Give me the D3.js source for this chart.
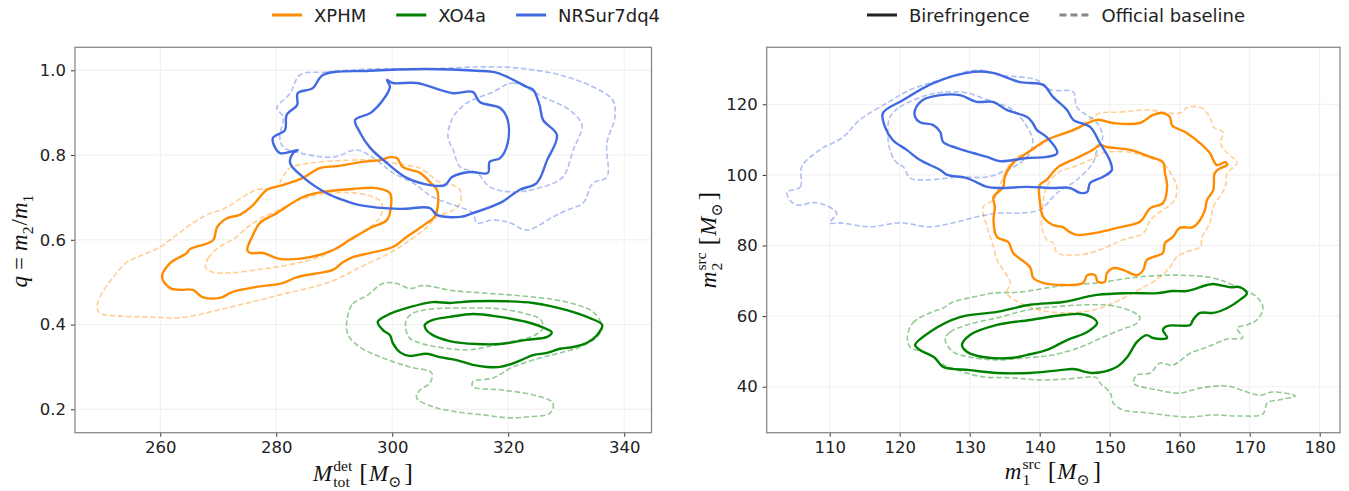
<!DOCTYPE html>
<html>
<head>
<meta charset="utf-8">
<script src="https://cdn.jsdelivr.net/npm/d3@7"></script>
<style>
  body { margin: 0; background: #fff; }
</style>
</head>
<body>
<div id="chart"></div>
<script>
// ---- legend / tick labels ----
const models = ["XPHM", "XO4a", "NRSur7dq4"];
const modelColors = ["darkorange", "green", "royalblue"];
const styleNames = ["Birefringence", "Official baseline"];
const leftXTicks = [260, 280, 300, 320, 340];
const leftYTicks = [0.2, 0.4, 0.6, 0.8, 1.0];
const rightXTicks = [110, 120, 130, 140, 150, 160, 170, 180];
const rightYTicks = [40, 60, 80, 100, 120];

// ---- left panel contours: [M_tot_det, q] ----
const qXphmSolidOuter = [[260.3,0.512],[261.7,0.545],[264.6,0.569],[265.1,0.578],[269.1,0.599],[269.8,0.630],[271.5,0.651],[273.7,0.659],[276.0,0.682],[278.4,0.718],[281.1,0.729],[284.6,0.746],[287.5,0.769],[290.5,0.774],[294.9,0.784],[297.9,0.788],[299.6,0.795],[300.8,0.793],[301.8,0.772],[304.8,0.758],[306.5,0.736],[307.7,0.718],[307.9,0.687],[307.3,0.654],[306.0,0.640],[302.5,0.607],[300.1,0.583],[296.2,0.569],[293.2,0.559],[291.5,0.547],[289.8,0.529],[287.5,0.522],[283.6,0.512],[281.1,0.498],[276.7,0.489],[272.5,0.477],[270.3,0.463],[267.3,0.465],[265.6,0.482],[263.4,0.482],[261.7,0.486]];
const qXphmSolidInner = [[275.0,0.576],[275.8,0.606],[277.2,0.640],[280.1,0.663],[284.6,0.701],[288.0,0.713],[293.2,0.720],[297.3,0.722],[299.6,0.710],[299.8,0.682],[299.1,0.647],[296.2,0.628],[292.7,0.600],[289.8,0.576],[285.8,0.559],[280.6,0.555],[277.7,0.569],[275.5,0.569]];
const qXphmDashOuter = [[249.1,0.441],[249.6,0.465],[251.9,0.512],[254.3,0.548],[256.0,0.559],[260.0,0.583],[261.7,0.600],[267.3,0.654],[271.5,0.677],[274.2,0.701],[276.6,0.718],[280.1,0.725],[281.1,0.748],[282.3,0.769],[285.8,0.781],[292.7,0.788],[297.3,0.788],[301.8,0.777],[304.8,0.769],[308.2,0.736],[310.5,0.729],[311.7,0.718],[311.7,0.687],[310.5,0.670],[307.7,0.654],[306.0,0.630],[303.1,0.600],[299.6,0.569],[295.3,0.541],[289.3,0.501],[280.6,0.470],[272.0,0.441],[263.4,0.416],[258.3,0.418],[253.1,0.420],[249.6,0.427]];
const qXphmDashInner = [[267.8,0.536],[268.3,0.557],[270.0,0.581],[272.9,0.604],[274.7,0.626],[277.4,0.651],[281.1,0.675],[283.5,0.692],[288.0,0.708],[293.9,0.710],[297.9,0.692],[298.3,0.668],[297.4,0.645],[294.4,0.614],[291.5,0.590],[288.0,0.562],[284.6,0.548],[280.1,0.536],[276.6,0.529],[272.0,0.522],[268.9,0.524]];
const qXo4aSolidOuter = [[297.5,0.406],[299.1,0.422],[303.0,0.441],[307.0,0.453],[309.9,0.451],[313.9,0.455],[319.8,0.455],[324.3,0.451],[330.1,0.434],[334.1,0.415],[336.2,0.399],[335.3,0.375],[333.6,0.357],[331.2,0.347],[328.9,0.343],[326.7,0.333],[324.3,0.328],[321.5,0.312],[318.6,0.300],[316.3,0.300],[313.9,0.305],[311.1,0.316],[308.2,0.323],[305.9,0.331],[303.0,0.326],[301.3,0.335],[300.1,0.356],[299.6,0.375],[298.4,0.387]];
const qXo4aSolidInner = [[305.6,0.399],[307.0,0.411],[309.9,0.418],[313.9,0.425],[318.6,0.418],[323.2,0.406],[326.7,0.389],[327.5,0.382],[326.7,0.371],[323.2,0.364],[318.6,0.354],[314.6,0.354],[309.9,0.361],[307.0,0.375],[305.9,0.387]];
const qXo4aDashOuter = [[292.2,0.413],[293.2,0.449],[295.6,0.468],[298.4,0.497],[300.8,0.497],[303.0,0.485],[305.3,0.492],[310.5,0.480],[316.3,0.474],[324.3,0.465],[330.1,0.453],[334.6,0.430],[336.2,0.394],[335.3,0.371],[332.4,0.347],[328.9,0.333],[325.5,0.321],[320.8,0.300],[317.4,0.274],[313.9,0.265],[313.9,0.253],[318.6,0.246],[324.3,0.234],[327.7,0.215],[327.2,0.191],[323.2,0.182],[319.8,0.180],[315.6,0.187],[311.1,0.194],[307.0,0.206],[304.2,0.227],[304.8,0.246],[306.5,0.262],[306.8,0.286],[303.0,0.300],[298.4,0.321],[294.4,0.347],[292.4,0.375]];
const qXo4aDashInner = [[302.5,0.413],[303.6,0.427],[307.0,0.437],[312.9,0.439],[318.6,0.437],[323.2,0.425],[325.5,0.413],[326.0,0.392],[324.3,0.373],[320.8,0.361],[316.3,0.347],[312.9,0.340],[308.8,0.345],[305.3,0.354],[303.0,0.368],[302.3,0.392]];
const qNrsurSolidOuter = [[288.05,0.989],[296.1,0.999],[306.0,1.003],[314.6,0.999],[318.1,0.994],[323.2,0.961],[324.3,0.954],[325.4,0.918],[326.0,0.883],[328.4,0.847],[326.7,0.788],[324.9,0.734],[322.0,0.718],[318.6,0.687],[313.9,0.663],[311.7,0.654],[307.7,0.659],[306.5,0.675],[301.3,0.673],[294.4,0.682],[291.5,0.694],[288.7,0.710],[284.6,0.748],[282.4,0.781],[282.9,0.805],[283.7,0.812],[280.6,0.805],[279.4,0.840],[281.5,0.859],[281.8,0.895],[283.6,0.918],[283.7,0.946],[286.3,0.958]];
const qNrsurSolidInner = [[299.1,0.977],[300.1,0.970],[304.2,0.970],[310.5,0.946],[313.9,0.949],[315.1,0.925],[318.6,0.911],[319.9,0.883],[319.9,0.828],[318.6,0.793],[316.8,0.784],[316.5,0.758],[313.4,0.760],[310.3,0.748],[309.1,0.729],[306.5,0.729],[302.5,0.746],[299.1,0.781],[296.2,0.817],[294.4,0.854],[293.6,0.883],[296.2,0.899],[298.4,0.930],[299.6,0.961]];
const qNrsurDashOuter = [[284.1,0.989],[288.7,0.996],[296.2,1.003],[306.0,1.003],[315.1,1.008],[322.0,1.005],[328.9,0.989],[334.6,0.961],[338.0,0.930],[338.4,0.890],[337.0,0.828],[337.0,0.748],[334.6,0.734],[332.9,0.687],[330.1,0.670],[327.7,0.654],[323.2,0.623],[320.3,0.640],[317.4,0.647],[314.6,0.640],[313.9,0.663],[311.7,0.677],[307.0,0.701],[303.6,0.734],[300.1,0.758],[297.3,0.788],[293.9,0.812],[289.8,0.795],[284.1,0.805],[281.2,0.819],[280.6,0.843],[281.2,0.890],[280.1,0.911],[282.4,0.946]];
const qNrsurDashInner = [[317.4,0.949],[320.8,0.970],[326.0,0.937],[330.6,0.906],[332.7,0.871],[331.2,0.812],[329.4,0.748],[326.0,0.725],[320.8,0.713],[316.8,0.725],[314.6,0.758],[311.7,0.772],[310.5,0.812],[309.6,0.843],[310.5,0.890],[312.9,0.923]];

// ---- right panel contours: [m1_src, m2_src] ----
const mXphmSolidOuter = [[133.4,93.7],[134.8,96.6],[135.0,99.4],[136.2,103.4],[138.2,106.2],[141.0,109.9],[144.8,112.7],[148.2,115.6],[150.5,114.7],[154.3,114.7],[156.2,117.0],[157.6,117.5],[158.6,116.4],[158.9,114.1],[161.0,111.9],[162.9,109.0],[164.3,106.2],[165.3,102.8],[166.5,103.6],[166.8,102.8],[165.8,101.9],[165.0,100.5],[164.8,95.7],[163.9,92.9],[163.6,90.0],[162.9,87.2],[161.9,85.2],[160.0,85.0],[159.0,82.4],[157.9,80.7],[157.6,77.9],[155.3,75.9],[154.8,73.1],[153.9,71.6],[151.9,73.1],[150.5,73.6],[149.6,72.2],[149.3,69.7],[148.3,69.7],[147.9,71.6],[146.8,71.6],[146.2,69.4],[143.3,68.8],[140.5,69.4],[139.1,70.8],[138.6,73.9],[136.2,77.9],[135.5,81.0],[133.9,82.4],[133.4,87.2],[133.6,90.9]];
const mXphmSolidInner = [[140.0,97.1],[141.0,98.6],[142.5,102.0],[145.3,104.8],[147.6,107.1],[148.6,108.5],[149.6,107.9],[152.9,107.1],[155.8,105.1],[157.6,103.6],[157.9,100.5],[158.2,96.6],[157.6,92.0],[155.8,90.6],[154.3,86.7],[151.5,85.2],[148.6,83.8],[145.3,83.0],[144.3,83.8],[143.3,85.2],[141.9,85.8],[140.5,88.1],[140.0,92.9]];
const mXphmDashOuter = [[148.6,117.5],[151.5,117.8],[155.3,118.4],[160.0,117.5],[161.0,119.0],[162.9,119.2],[164.3,116.4],[164.8,113.6],[166.2,112.1],[165.8,109.0],[166.8,106.2],[168.2,103.4],[166.8,100.5],[166.5,96.6],[164.8,90.9],[164.3,86.4],[163.2,82.4],[162.9,79.6],[161.0,78.2],[159.6,76.8],[158.6,73.9],[157.2,71.1],[153.4,66.6],[150.5,63.7],[147.6,61.7],[143.9,60.9],[140.0,61.7],[137.2,63.7],[135.3,66.6],[135.8,69.4],[134.8,73.1],[133.9,75.9],[133.4,79.6],[132.5,85.2],[131.9,90.9],[133.4,92.9],[134.3,97.1],[136.2,104.2],[139.1,107.1],[141.9,110.7],[144.8,112.7],[147.6,116.4]];
const mXphmDashInner = [[141.0,96.6],[142.5,100.5],[144.8,102.3],[147.2,104.2],[149.0,106.2],[152.5,106.5],[155.3,105.1],[157.6,103.4],[159.0,99.4],[159.6,96.6],[159.3,92.9],[158.2,90.9],[155.8,87.2],[154.8,83.5],[151.9,81.6],[149.6,79.6],[147.2,77.9],[144.8,77.3],[142.5,77.9],[141.9,80.7],[141.0,81.6],[140.3,85.2],[140.4,90.9]];
const mXo4aSolidOuter = [[122.2,51.8],[124.3,55.5],[128.6,59.7],[133.9,61.2],[138.6,63.2],[143.3,64.0],[148.2,66.0],[152.9,66.5],[156.8,66.5],[159.0,67.1],[161.0,67.1],[163.9,68.8],[164.8,69.1],[167.2,68.2],[168.6,68.2],[169.6,66.5],[168.6,64.6],[166.8,62.3],[164.8,60.9],[162.9,60.9],[161.9,58.9],[161.5,57.5],[158.2,57.2],[157.6,56.1],[158.2,53.8],[156.2,53.8],[155.3,54.6],[153.9,52.7],[152.5,48.4],[151.0,45.6],[147.6,43.9],[144.8,45.0],[142.9,44.7],[138.6,43.9],[133.9,43.9],[130.0,44.7],[126.2,45.6],[125.0,48.2],[122.9,50.4]];
const mXo4aSolidInner = [[128.9,51.8],[130.0,54.6],[133.9,57.5],[138.6,58.9],[143.3,60.3],[145.8,60.6],[147.6,59.5],[148.2,58.0],[146.8,55.5],[143.9,53.2],[141.0,50.4],[138.2,49.0],[136.2,48.2],[131.9,48.4],[129.6,49.9]];
const mXo4aDashOuter = [[121.1,54.1],[121.9,58.1],[124.3,60.9],[126.2,62.3],[127.6,64.0],[130.5,65.4],[133.3,66.5],[137.2,66.8],[141.0,68.0],[143.9,68.8],[148.2,69.4],[152.9,70.8],[156.2,71.4],[160.0,71.6],[164.8,70.8],[167.6,68.8],[171.0,65.4],[171.9,62.3],[171.0,58.9],[169.6,57.5],[168.2,56.6],[169.0,53.8],[166.8,53.5],[163.9,51.2],[161.5,49.5],[159.0,46.1],[157.2,46.7],[155.8,43.9],[153.9,43.3],[153.4,41.0],[156.8,39.1],[160.0,38.2],[162.9,39.6],[166.8,40.2],[169.6,38.5],[171.5,37.6],[173.3,38.5],[176.5,37.4],[174.3,36.3],[172.5,35.4],[171.9,32.3],[168.6,31.7],[164.8,32.0],[161.1,31.4],[155.3,32.6],[151.9,33.4],[150.5,35.4],[150.1,38.2],[148.6,41.1],[148.2,42.5],[143.9,42.2],[140.0,41.9],[136.2,42.5],[131.9,42.8],[128.2,44.7],[125.8,46.7],[123.9,49.5],[121.5,51.2]];
const mXo4aDashInner = [[126.5,53.3],[127.2,55.5],[129.6,57.5],[133.9,59.5],[138.2,61.7],[141.9,62.6],[146.8,63.2],[150.5,62.9],[153.3,61.2],[154.3,59.7],[153.9,58.0],[151.5,56.1],[148.2,53.3],[145.8,51.2],[141.9,49.0],[138.2,48.2],[133.9,47.6],[130.0,48.4],[127.6,49.9]];
const mNrsurSolidOuter = [[117.6,117.5],[120.5,121.2],[124.8,126.0],[130.5,129.2],[133.3,128.9],[137.2,126.3],[140.5,125.5],[141.9,122.1],[143.9,118.4],[144.8,115.6],[147.2,113.6],[148.6,109.0],[150.0,104.2],[150.3,101.4],[149.0,99.4],[147.2,97.7],[146.8,95.2],[145.8,94.9],[144.3,96.3],[141.9,96.3],[138.2,96.6],[134.3,96.3],[132.5,96.6],[129.6,99.1],[126.8,100.0],[125.8,101.4],[122.9,104.2],[121.0,107.1],[119.0,109.9],[117.9,113.6]];
const mNrsurSolidInner = [[122.2,118.4],[123.3,121.2],[125.8,122.6],[128.6,122.6],[131.0,120.7],[133.3,120.7],[135.3,118.4],[138.2,116.4],[139.0,114.7],[139.6,112.7],[141.0,110.7],[142.5,106.2],[141.0,105.1],[138.2,104.8],[134.3,103.9],[132.5,105.1],[130.5,106.2],[128.2,107.6],[126.2,109.3],[125.8,112.1],[124.8,114.1],[122.9,114.9],[122.2,116.4]];
const mNrsurDashOuter = [[103.9,95.1],[105.8,96.6],[106.0,102.3],[108.6,107.1],[111.9,110.7],[114.3,115.6],[118.2,120.4],[121.5,124.1],[125.8,126.9],[131.0,129.7],[134.3,128.3],[139.6,126.9],[141.5,124.1],[144.8,123.5],[145.3,119.2],[148.2,114.7],[149.0,110.7],[148.2,107.1],[147.6,103.4],[145.3,98.6],[142.5,94.9],[140.0,90.1],[137.2,89.2],[134.3,89.2],[131.0,88.1],[127.6,86.4],[124.3,85.3],[120.0,86.4],[115.8,85.3],[111.5,86.4],[110.0,86.4],[111.0,89.2],[108.2,92.1],[105.3,91.5],[104.3,92.9]];
const mNrsurDashInner = [[118.6,116.4],[120.0,119.2],[123.9,122.6],[126.7,123.5],[129.6,123.2],[133.3,120.7],[136.2,118.4],[138.2,113.6],[139.0,109.9],[138.6,106.2],[137.2,103.4],[135.3,101.4],[132.5,99.4],[128.6,99.4],[123.9,98.6],[121.5,99.1],[120.5,102.3],[119.6,103.4],[118.6,107.1],[118.3,111.9]];

const width = 1349, height = 491;
const fontSans = "DejaVu Sans, sans-serif";
const fontMath = "Liberation Serif, DejaVu Serif, serif";

const svg = d3.select("#chart").append("svg")
  .attr("width", width)
  .attr("height", height)
  .attr("viewBox", [0, 0, width, height]);

const panels = [
  {
    box: [75, 47.3, 651.5, 432.7],
    xDomain: [245.3, 344.7], yDomain: [0.1448, 1.0543],
    xTicks: leftXTicks, yTicks: leftYTicks, yFormat: d3.format(".1f"),
    contours: [
      [qXphmDashOuter, 0, true], [qXphmDashInner, 0, true],
      [qXo4aDashOuter, 1, true], [qXo4aDashInner, 1, true],
      [qNrsurDashOuter, 2, true], [qNrsurDashInner, 2, true],
      [qXphmSolidOuter, 0, false], [qXphmSolidInner, 0, false],
      [qXo4aSolidOuter, 1, false], [qXo4aSolidInner, 1, false],
      [qNrsurSolidOuter, 2, false], [qNrsurSolidInner, 2, false]
    ]
  },
  {
    box: [766.7, 47.3, 1340, 432.7],
    xDomain: [101.0, 182.9], yDomain: [26.97, 136.15],
    xTicks: rightXTicks, yTicks: rightYTicks, yFormat: d3.format("d"),
    contours: [
      [mXphmDashOuter, 0, true], [mXphmDashInner, 0, true],
      [mXo4aDashOuter, 1, true], [mXo4aDashInner, 1, true],
      [mNrsurDashOuter, 2, true], [mNrsurDashInner, 2, true],
      [mXphmSolidOuter, 0, false], [mXphmSolidInner, 0, false],
      [mXo4aSolidOuter, 1, false], [mXo4aSolidInner, 1, false],
      [mNrsurSolidOuter, 2, false], [mNrsurSolidInner, 2, false]
    ]
  }
];

panels.forEach((p, pi) => {
  const [x0, y0, x1, y1] = p.box;
  const x = d3.scaleLinear(p.xDomain, [x0, x1]);
  const y = d3.scaleLinear(p.yDomain, [y1, y0]);

  // grid
  const grid = svg.append("g").attr("stroke", "#ebebeb").attr("stroke-width", 0.8);
  grid.selectAll(".gx").data(p.xTicks).join("line")
    .attr("x1", d => x(d)).attr("x2", d => x(d)).attr("y1", y0).attr("y2", y1);
  grid.selectAll(".gy").data(p.yTicks).join("line")
    .attr("y1", d => y(d)).attr("y2", d => y(d)).attr("x1", x0).attr("x2", x1);

  // contours
  svg.append("clipPath").attr("id", "clip" + pi)
    .append("rect").attr("x", x0).attr("y", y0).attr("width", x1 - x0).attr("height", y1 - y0);
  const line = d3.line().x(d => x(d[0])).y(d => y(d[1]))
    .curve(d3.curveCatmullRomClosed.alpha(0.5));
  svg.append("g").attr("clip-path", `url(#clip${pi})`).attr("fill", "none")
    .selectAll("path").data(p.contours).join("path")
    .attr("d", d => line(d[0]))
    .attr("stroke", d => modelColors[d[1]])
    .attr("stroke-width", d => d[2] ? 1.6 : 2.4)
    .attr("stroke-opacity", d => d[2] ? 0.42 : 1)
    .attr("stroke-dasharray", d => d[2] ? "5.5,2.6" : null)
    .attr("stroke-linejoin", "round");

  // axes
  const xAxis = svg.append("g").attr("transform", `translate(0,${y1})`)
    .call(d3.axisBottom(x).tickValues(p.xTicks).tickSize(4).tickPadding(5));
  const yAxis = svg.append("g").attr("transform", `translate(${x0},0)`)
    .call(d3.axisLeft(y).tickValues(p.yTicks).tickFormat(p.yFormat).tickSize(4).tickPadding(5));
  [xAxis, yAxis].forEach(a => {
    a.select(".domain").remove();
    a.selectAll(".tick line").attr("stroke", "#333").attr("stroke-width", 1);
    a.selectAll(".tick text").attr("fill", "#222")
      .attr("font-family", fontSans).attr("font-size", 16.5);
  });

  svg.append("rect").attr("x", x0).attr("y", y0)
    .attr("width", x1 - x0).attr("height", y1 - y0)
    .attr("fill", "none").attr("stroke", "#888").attr("stroke-width", 1.3);
});

// a tiny math-text layout: items laid out left to right
function mathLabel(g, items, size) {
  let cx = 0;
  const len = t => t.node().getComputedTextLength();
  items.forEach(it => {
    if (it.sup !== undefined || it.sub !== undefined) {
      let w = 0;
      if (it.sup) {
        const t = g.append("text").attr("x", cx).attr("y", -0.42 * size)
          .attr("font-size", size * 0.68).text(it.sup);
        w = Math.max(w, len(t));
      }
      if (it.sub) {
        const t = g.append("text").attr("x", cx).attr("y", 0.26 * size)
          .attr("font-size", size * 0.68).text(it.sub);
        w = Math.max(w, len(t));
      }
      cx += w + (it.gap || 0);
    } else {
      const t = g.append("text").attr("x", cx).attr("font-size", it.size || size)
        .attr("font-style", it.italic ? "italic" : null).text(it.text);
      cx += len(t) + (it.gap || 0);
    }
  });
  return cx;
}

function placeLabel(items, cx, cy, rotate) {
  const g = svg.append("g").attr("font-family", fontMath).attr("fill", "#111");
  const inner = g.append("g");
  const w = mathLabel(inner, items, 23);
  inner.attr("transform", `translate(${-w / 2},0)`);
  g.attr("transform", `translate(${cx},${cy})` + (rotate ? " rotate(-90)" : ""));
}

placeLabel([{text: "M", italic: true, gap: 1}, {sup: "det", sub: "tot", gap: 7},
  {text: "[", size: 26, gap: 1}, {text: "M", italic: true}, {sub: "⊙", gap: 3}, {text: "]", size: 26}], 363, 481, false);
placeLabel([{text: "m", italic: true, gap: 1}, {sup: "src", sub: "1", gap: 7},
  {text: "[", size: 26, gap: 1}, {text: "M", italic: true}, {sub: "⊙", gap: 3}, {text: "]", size: 26}], 1053, 479, false);
placeLabel([{text: "q", italic: true, gap: 6}, {text: "=", gap: 6},
  {text: "m", italic: true}, {sub: "2", gap: 1}, {text: "/"},
  {text: "m", italic: true}, {sub: "1"}], 27, 241, true);
placeLabel([{text: "m", italic: true, gap: 1}, {sup: "src", sub: "2", gap: 7},
  {text: "[", size: 26, gap: 1}, {text: "M", italic: true}, {sub: "⊙", gap: 3}, {text: "]", size: 26}], 716, 240, true);

// legends
function legend(items, startX) {
  const g = svg.append("g").attr("font-family", fontSans).attr("font-size", 18);
  let lx = startX;
  items.forEach(it => {
    g.append("line").attr("x1", lx).attr("x2", lx + 30).attr("y1", 15).attr("y2", 15)
      .attr("stroke", it.color).attr("stroke-width", 3)
      .attr("stroke-dasharray", it.dash || null);
    const t = g.append("text").attr("x", lx + 42).attr("y", 21.5)
      .attr("fill", "#222").text(it.label);
    lx += 42 + t.node().getComputedTextLength() + 30;
  });
}
legend(models.map((m, i) => ({label: m, color: modelColors[i]})), 272);
legend([
  {label: styleNames[0], color: "#222"},
  {label: styleNames[1], color: "#888", dash: "7,4"}
], 867);
</script>
</body>
</html>
